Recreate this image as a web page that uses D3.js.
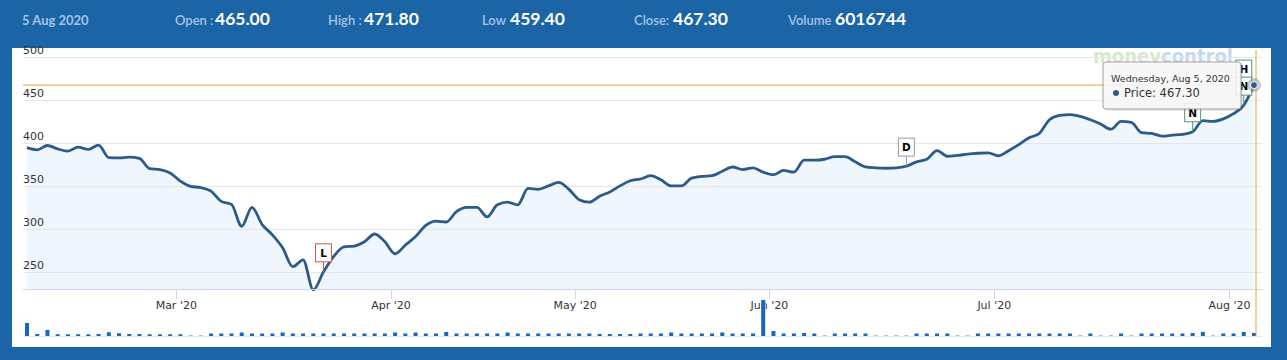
<!DOCTYPE html>
<html><head><meta charset="utf-8">
<script src="https://cdn.jsdelivr.net/npm/d3@7"></script>
<style>body{margin:0;background:#1b64a6;} svg{display:block}</style>
</head><body><svg id="c" width="1287" height="360"></svg>
<script>
// ---- data ----
const tradingDays = {
  "2020-02": [7,10,11,12,13,14,17,18,19,20,24,25,26,27,28],
  "2020-03": [2,3,4,5,6,9,11,12,13,16,17,18,19,20,23,24,25,26,27,30,31],
  "2020-04": [1,3,7,8,9,13,15,16,17,20,21,22,23,24,27,28,29,30],
  "2020-05": [4,5,6,7,8,11,12,13,14,15,18,19,20,21,22,26,27,28,29],
  "2020-06": [1,2,3,4,5,8,9,10,11,12,15,16,17,18,19,22,23,24,25,26,29,30],
  "2020-07": [1,2,3,6,7,8,9,10,13,14,15,16,17,20,21,22,23,24,27,28,29,30,31],
  "2020-08": [3,4,5]
};
const closes = [
  394.5,392,397,393,390.5,395,392.5,397.5,383,382.5,
  383.5,382,370,369,365,355.5,349.5,348,344,332,
  328.5,303,325,305,293,278,256,264,229,250,
  268,279,280,285,294,285,271,281,291,304,
  309,308,320,325,325,314,328,331,328,347,
  346,350,354,346,334,331,338,343,350,356,
  358,362,357,350,350,359,361,362,367,372,
  369,371,366,363,368,366,380,380,381,384,
  384,378,372,371,370.5,371,373,378,381,391,
  384.5,385.5,387,388,388.5,385,391,398,406,411,
  427,432,433,431,427,422,416,425,424,412,
  411,408,409,410,413,426,425,428,434,444,
  467.3
];
const volumes = [
  26,4,12,3.5,3.5,3.5,3.5,4,7.5,5.5,
  4,4,3.5,3.5,3.5,3.5,0.8,0.8,5,5,
  5,7,5,5,5,7,5,5,5,5,
  5,5,5,5,5,5,7,5,7,5,
  5,8,5,5,5,5,5,7,5,5,
  5,5,5,5,5,5,4,4,4,4,
  5,5,5,7,5,5,5,5,7,5,
  5,5,72,10,5,5,6,5,0.8,5,
  5,5,5,0.8,0.8,0.8,0.8,5,5,5,
  5,0.8,0.8,5,5,5,5,5,5,5,
  5,5,5,0.8,5,0.8,0.8,5,0.8,5,
  5,5,5,5,6,8,0.8,5,5,8,
  6.016744
];
const yTicks = [250,300,350,400,450,500];
const monthKeys = ["2020-03","2020-04","2020-05","2020-06","2020-07","2020-08"];
const monthLabels = ["Mar '20","Apr '20","May '20","Jun '20","Jul '20","Aug '20"];
const flags = [
  {date:"2020-03-23", title:"L", color:"#d9534f", stack:0},
  {date:"2020-06-18", title:"D", color:"#9a9a9a", stack:0},
  {date:"2020-07-28", title:"N", color:"#4b9b6e", stack:0},
  {date:"2020-08-04", title:"H", color:"#4b9b6e", stack:1},
  {date:"2020-08-04", title:"N", color:"#4b9b6e", stack:0}
];
const headerDate = "5 Aug 2020";
const headerLabels = ["Open :","High :","Low","Close:","Volume"];
const headerValues = ["465.00","471.80","459.40","467.30","6016744"];
const tooltipDate = "Wednesday, Aug 5, 2020";
const seriesName = "Price";

// ---- build dates ----
const dates = [];
Object.keys(tradingDays).forEach(m => tradingDays[m].forEach(d => dates.push(m + "-" + String(d).padStart(2,"0"))));
const N = dates.length;

const svg = d3.select("#c");
const lineColor = "#2c5a8a";
const font = "'DejaVu Sans', Verdana, sans-serif";

// header
const hx = [[175,215],[328,364],[482,510],[634,673],[788,835]];
svg.append("text").attr("x",22).attr("y",25).attr("font-family","Lato").attr("font-weight","bold")
  .attr("font-size",13).attr("fill","#a5c3e6").text(headerDate);
headerLabels.forEach((l,i)=>{
  svg.append("text").attr("x",hx[i][0]).attr("y",25).attr("font-family","Lato").attr("font-weight","600")
    .attr("font-size",13).attr("fill","#a5c3e6").text(l);
  svg.append("text").attr("x",hx[i][1]).attr("y",25).attr("font-family","Lato").attr("font-weight","bold")
    .attr("font-size",17.5).attr("fill","#ffffff").text(headerValues[i]);
});

// panel
svg.append("rect").attr("x",12).attr("y",48).attr("width",1259).attr("height",299).attr("fill","#fff");

const x = d3.scaleLinear().domain([0, N-1]).range([27, 1254]);
const y = d3.scaleLinear().domain([230, 500]).range([289, 57]);
const yv = d3.scaleLinear().domain([0, 72]).range([336, 300]);

// watermark
const wm = svg.append("text").attr("x",1093).attr("y",63).attr("font-family","'DejaVu Sans'").attr("font-weight","bold")
  .attr("font-size",19).attr("textLength",140).attr("lengthAdjust","spacingAndGlyphs").attr("opacity",0.5);
wm.append("tspan").attr("fill","#a9d39c").text("money");
wm.append("tspan").attr("fill","#8fb3d9").text("control");

// area
const area = d3.area().x((d,i)=>x(i)).y0(289).y1(d=>y(d)).curve(d3.curveMonotoneX);
const line = d3.line().x((d,i)=>x(i)).y(d=>y(d)).curve(d3.curveMonotoneX);
svg.append("path").datum(closes).attr("d",area).attr("fill","#eff6fd");

// grid
svg.append("g").selectAll("line").data(yTicks).join("line")
  .attr("x1",23).attr("x2",1262).attr("y1",d=>Math.round(y(d))+0.5).attr("y2",d=>Math.round(y(d))+0.5)
  .attr("stroke","#e6e6e6");
svg.append("g").selectAll("text").data(yTicks).join("text")
  .attr("x",23).attr("y",d=>y(d)-3).attr("font-family",font).attr("font-size",11).attr("fill","#333")
  .text(d=>d);

// line
svg.append("path").datum(closes).attr("d",line).attr("fill","none").attr("stroke",lineColor)
  .attr("stroke-width",2.8).attr("stroke-linejoin","round");

// x axis
svg.append("line").attr("x1",23).attr("x2",1262).attr("y1",289.5).attr("y2",289.5).attr("stroke","#ccd6eb");
const tickIdx = monthKeys.map(k => dates.findIndex(d => d.startsWith(k)) - 0.4);
const tg = svg.append("g").selectAll("g").data(tickIdx).join("g");
tg.append("line").attr("x1",d=>Math.round(x(d))+0.5).attr("x2",d=>Math.round(x(d))+0.5)
  .attr("y1",289).attr("y2",299).attr("stroke","#ccd6eb");
tg.append("text").attr("x",d=>x(d)).attr("y",309).attr("text-anchor","middle")
  .attr("font-family",font).attr("font-size",11).attr("fill","#333").text((d,i)=>monthLabels[i]);

// volume
svg.append("line").attr("x1",23).attr("x2",1262).attr("y1",336.5).attr("y2",336.5).attr("stroke","#e6e6e6");
svg.append("g").selectAll("rect").data(volumes).join("rect")
  .attr("x",(d,i)=>x(i)-2).attr("width",4).attr("y",d=>yv(d)).attr("height",d=>336-yv(d))
  .attr("fill","#1a66bf");

// crosshair
const last = N-1;
svg.append("line").attr("x1",23).attr("x2",1256).attr("y1",y(closes[last])).attr("y2",y(closes[last]))
  .attr("stroke","#e0a43a").attr("stroke-width",1);
svg.append("line").attr("x1",x(last)+2).attr("x2",x(last)+2).attr("y1",50).attr("y2",336)
  .attr("stroke","#e0a43a").attr("stroke-width",1);

// flags
const fh = 18, fw = 16, stackStep = 17;
flags.forEach(f=>{
  const i = dates.indexOf(f.date);
  const px = x(i), py = y(closes[i]);
  const bottom = py - 10 - f.stack*stackStep;
  if (f.stack===0) svg.append("line").attr("x1",px).attr("x2",px).attr("y1",bottom).attr("y2",py)
    .attr("stroke",f.color).attr("stroke-width",1);
  svg.append("rect").attr("x",px-fw/2).attr("y",bottom-fh).attr("width",fw).attr("height",fh)
    .attr("fill","#fff").attr("stroke",f.color);
  svg.append("text").attr("x",px).attr("y",bottom-5).attr("text-anchor","middle")
    .attr("font-family",font).attr("font-weight","bold").attr("font-size",10.5).attr("fill","#000").text(f.title);
});

// hover marker
svg.append("circle").attr("cx",x(last)).attr("cy",y(closes[last])).attr("r",7).attr("fill","#7f8c99").attr("opacity",0.45);
svg.append("circle").attr("cx",x(last)).attr("cy",y(closes[last])).attr("r",3.5).attr("fill",lineColor).attr("stroke","#fff").attr("stroke-width",1);

// tooltip
const tt = svg.append("g");
tt.append("rect").attr("x",1104).attr("y",63).attr("width",138).attr("height",47).attr("rx",3)
  .attr("fill","#000").attr("opacity",0.08).attr("transform","translate(1,1)");
tt.append("rect").attr("x",1103).attr("y",62).attr("width",138).attr("height",47).attr("rx",3)
  .attr("fill","rgba(248,248,248,0.9)").attr("stroke","#a0a0a0");
tt.append("text").attr("x",1111).attr("y",82).attr("font-family",font).attr("font-size",9.5).attr("fill","#333").text(tooltipDate);
tt.append("circle").attr("cx",1116).attr("cy",93).attr("r",3).attr("fill",lineColor);
tt.append("text").attr("x",1124).attr("y",97).attr("font-family",font).attr("font-size",11.5).attr("fill","#333")
  .text(seriesName + ": " + closes[last].toFixed(2));
</script></body></html>
